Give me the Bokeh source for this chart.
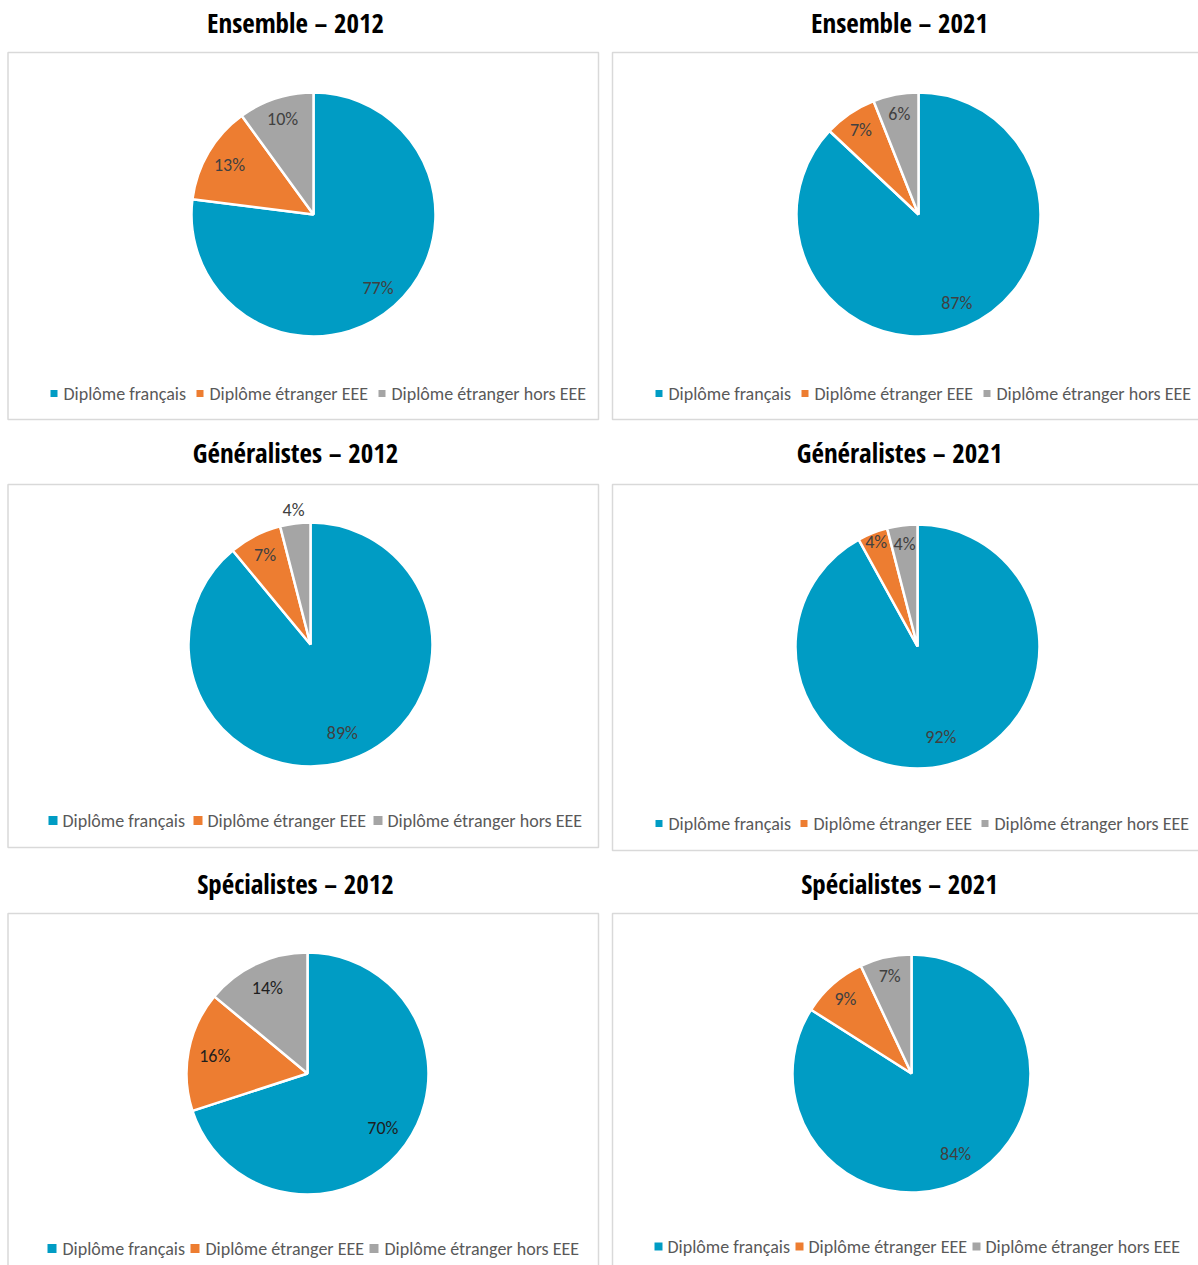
import math
from bokeh.plotting import figure
from bokeh.models import Range1d, ColumnDataSource
from bokeh.core.properties import value
from bokeh.embed import file_html
from bokeh.resources import INLINE

# ---------------- data ----------------
categories = ["Diplôme français", "Diplôme étranger EEE", "Diplôme étranger hors EEE"]
chart_titles = ["Ensemble – 2012", "Ensemble – 2021",
                "Généralistes – 2012", "Généralistes – 2021",
                "Spécialistes – 2012", "Spécialistes – 2021"]
ensemble_2012 = [77, 13, 10]
ensemble_2021 = [87, 7, 6]
generalistes_2012 = [89, 7, 4]
generalistes_2021 = [92, 4, 4]
specialistes_2012 = [70, 16, 14]
specialistes_2021 = [84, 9, 7]
series = [ensemble_2012, ensemble_2021, generalistes_2012,
          generalistes_2021, specialistes_2012, specialistes_2021]

# ---------------- styles / layout ----------------
colors = ["#009CC4", "#ED7D31", "#A5A5A5"]
TITLE_FONT = "Open Sans Condensed"
BODY_FONT = "Carlito"

layout = [
    dict(box=(7.5, 52, 598, 419), title=(295, 22), c=(313, 214), r=122,
         ld=[0.80, 0.80, 0.82], leg=[50, 196, 378], leg_y=393, sq=7, tdx=13, lab="#404040"),
    dict(box=(612, 52, 1210, 419), title=(899, 22), c=(918, 214), r=122,
         ld=[0.79, 0.84, 0.84], leg=[655, 801, 983], leg_y=393, sq=7, tdx=13, lab="#404040"),
    dict(box=(7.5, 484, 598, 847), title=(295, 452), c=(310, 644), r=122,
         ld=[0.77, 0.82, 1.11], leg=[48, 193, 373], leg_y=820, sq=9, tdx=14, lab="#404040"),
    dict(box=(612, 484, 1210, 850), title=(899, 452), c=(917, 646), r=122,
         ld=[0.77, 0.92, 0.85], leg=[655, 800, 981], leg_y=823, sq=7, tdx=13, lab="#404040"),
    dict(box=(7.5, 913, 598, 1290), title=(295, 883), c=(307, 1073), r=121,
         ld=[0.77, 0.78, 0.78], leg=[47, 190, 369], leg_y=1248, sq=9, tdx=15, lab="#1E1E1E"),
    dict(box=(612, 913, 1210, 1290), title=(899, 883), c=(911, 1073), r=119,
         ld=[0.77, 0.84, 0.84], leg=[654, 795, 972], leg_y=1246, sq=8, tdx=13, lab="#404040"),
]

W, H = 1198, 1265
p = figure(width=W, height=H, x_range=Range1d(0, W), y_range=Range1d(-H, 0),
           output_backend="svg", toolbar_location=None, min_border=0,
           x_axis_type=None, y_axis_type=None)
p.grid.visible = False
p.outline_line_color = None
p.background_fill_color = "white"
p.border_fill_color = "white"

for vals, title, L in zip(series, chart_titles, layout):
    x0, y0, x1, y1 = L["box"]
    p.quad(left=[x0], right=[x1], top=[-y0], bottom=[-y1], fill_color=None,
           line_color="#D9D9D9", line_width=1.5)
    p.text(x=[L["title"][0]], y=[-L["title"][1]], text=[title], text_align="center",
           text_baseline="middle", text_font=value(TITLE_FONT), text_font_style="bold",
           text_font_size="27px", text_color="#000000")

    total = float(sum(vals))
    cum = 0.0
    starts, ends, mids = [], [], []
    for v in vals:
        a0 = math.pi / 2 - 2 * math.pi * cum / total
        cum += v
        a1 = math.pi / 2 - 2 * math.pi * cum / total
        starts.append(a0); ends.append(a1); mids.append((a0 + a1) / 2)
    cx, cy, r = L["c"][0], -L["c"][1], L["r"]
    src = ColumnDataSource(dict(x=[cx] * 3, y=[cy] * 3, s=starts, e=ends, color=colors))
    p.wedge(x="x", y="y", radius=r, start_angle="s", end_angle="e", direction="clock",
            fill_color="color", line_color="white", line_width=2.5, source=src)

    lx = [cx + d * r * math.cos(m) for d, m in zip(L["ld"], mids)]
    ly = [cy + d * r * math.sin(m) for d, m in zip(L["ld"], mids)]
    labels = [f"{v:.0f}%" for v in vals]
    p.text(x=lx, y=ly, text=labels, text_align="center", text_baseline="middle",
           text_font=value(BODY_FONT), text_font_size="18px", text_color=L["lab"])

    sq = L["sq"]
    p.rect(x=[sx + sq / 2 for sx in L["leg"]], y=[-L["leg_y"]] * 3, width=sq, height=sq,
           fill_color=colors, line_color=None)
    p.text(x=[sx + L["tdx"] for sx in L["leg"]], y=[-L["leg_y"]] * 3, text=categories,
           text_align="left", text_baseline="middle", text_font=value(BODY_FONT),
           text_font_size="18px", text_color="#595959")

open("out.html", "w").write(file_html(p, INLINE))
